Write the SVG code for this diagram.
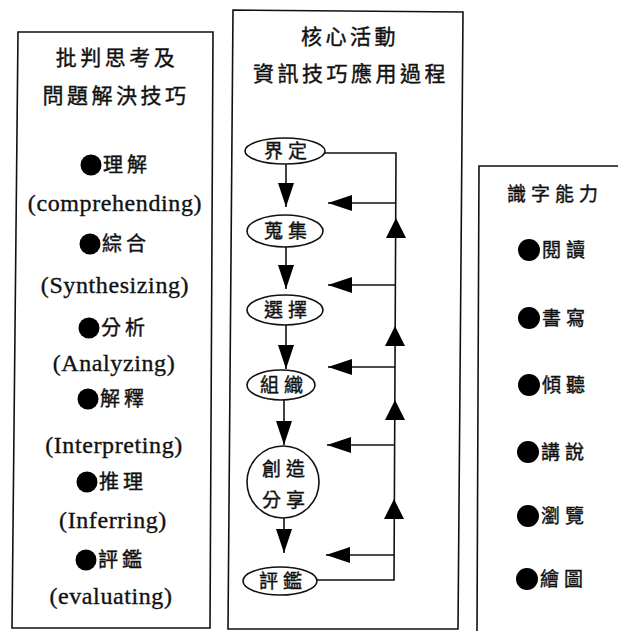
<svg xmlns="http://www.w3.org/2000/svg" width="618" height="631" viewBox="0 0 618 631">
<defs>
<style>
.frame{fill:none;stroke:#111;stroke-width:1.6}
.cjk{font-family:"Noto Sans CJK TC","Noto Sans CJK SC",sans-serif;fill:#111;stroke:#111;stroke-width:0.4}
.t{font-size:21px;letter-spacing:3.5px}
.b{font-size:20px;letter-spacing:4px}
.r{font-size:19px;letter-spacing:5px}
.n{font-size:19px;letter-spacing:5px}
.en{font-family:"Liberation Serif","Times New Roman",serif;font-size:24px;letter-spacing:0.6px;fill:#111;stroke:#111;stroke-width:0.35}
.dot{fill:#000}
.node{fill:#fff;stroke:#111;stroke-width:1.6}
.ln{fill:none;stroke:#111;stroke-width:1.6}
.ah{fill:#000}
</style>
<marker id="arr" markerUnits="userSpaceOnUse" markerWidth="26" markerHeight="18" refX="24" refY="8" orient="auto" viewBox="0 0 26 18">
<path d="M0,0 L24,8 L0,16 Z" fill="#000"/>
</marker>
<path id="up" d="M0,0 L10,20 L-10,20 Z"/>
</defs>
<rect width="618" height="631" fill="#fff"/>

<g id="panel-left">
<path class="frame" d="M18,32 L213,32 L210,628 L12,628 Z"/>
<text class="cjk t" x="117" y="65" text-anchor="middle">批判思考及</text>
<text class="cjk t" x="116" y="103" text-anchor="middle">問題解決技巧</text>
<circle class="dot" cx="91" cy="165" r="10.5"/><text class="cjk b" x="103" y="172">理解</text>
<text class="en" x="115" y="211" text-anchor="middle">(comprehending)</text>
<circle class="dot" cx="90" cy="244" r="10.5"/><text class="cjk b" x="102" y="251">綜合</text>
<text class="en" x="115" y="293" text-anchor="middle">(Synthesizing)</text>
<circle class="dot" cx="89" cy="328" r="10.5"/><text class="cjk b" x="101" y="335">分析</text>
<text class="en" x="114" y="371" text-anchor="middle">(Analyzing)</text>
<circle class="dot" cx="88" cy="399" r="10.5"/><text class="cjk b" x="100" y="406">解釋</text>
<text class="en" x="114" y="453" text-anchor="middle">(Interpreting)</text>
<circle class="dot" cx="87" cy="482" r="10.5"/><text class="cjk b" x="99" y="489">推理</text>
<text class="en" x="113" y="528" text-anchor="middle">(Inferring)</text>
<circle class="dot" cx="86" cy="560" r="10.5"/><text class="cjk b" x="98" y="567">評鑑</text>
<text class="en" x="111" y="604" text-anchor="middle">(evaluating)</text>
</g>

<g id="panel-center">
<path class="frame" d="M233,10 L463,12 L458,629 L228,629 Z"/>
<text class="cjk t" x="350" y="44" text-anchor="middle">核心活動</text>
<text class="cjk t" x="351" y="81" text-anchor="middle">資訊技巧應用過程</text>
</g>

<g id="panel-right">
<path class="frame" d="M618,166 L479,166 L477,631"/>
<text class="cjk r" x="555" y="201" text-anchor="middle">識字能力</text>
<circle class="dot" cx="529" cy="250" r="11"/><text class="cjk r" x="542" y="257">閱讀</text>
<circle class="dot" cx="529" cy="318" r="11"/><text class="cjk r" x="542" y="325">書寫</text>
<circle class="dot" cx="529" cy="385" r="11"/><text class="cjk r" x="542" y="392">傾聽</text>
<circle class="dot" cx="528" cy="452" r="11"/><text class="cjk r" x="541" y="459">講說</text>
<circle class="dot" cx="528" cy="516" r="11"/><text class="cjk r" x="541" y="523">瀏覽</text>
<circle class="dot" cx="527" cy="579" r="11"/><text class="cjk r" x="540" y="586">繪圖</text>
</g>

<g id="connectors">
<line class="ln" x1="286" y1="163" x2="286" y2="207" marker-end="url(#arr)"/>
<line class="ln" x1="286" y1="247" x2="286" y2="289" marker-end="url(#arr)"/>
<line class="ln" x1="286" y1="325" x2="286" y2="369" marker-end="url(#arr)"/>
<line class="ln" x1="284" y1="400" x2="284" y2="445" marker-end="url(#arr)"/>
<line class="ln" x1="284" y1="518" x2="284" y2="553" marker-end="url(#arr)"/>
<path class="ln" d="M324,153 L396,153 L394,580 L317,580"/>
<line class="ln" x1="396" y1="203" x2="328" y2="203" marker-end="url(#arr)"/>
<line class="ln" x1="396" y1="285" x2="328" y2="285" marker-end="url(#arr)"/>
<line class="ln" x1="395" y1="367" x2="328" y2="367" marker-end="url(#arr)"/>
<line class="ln" x1="395" y1="445" x2="327" y2="445" marker-end="url(#arr)"/>
<line class="ln" x1="394" y1="555" x2="326" y2="555" marker-end="url(#arr)"/>
<use href="#up" class="ah" x="396" y="218"/>
<use href="#up" class="ah" x="395" y="326"/>
<use href="#up" class="ah" x="395" y="400"/>
<use href="#up" class="ah" x="394" y="499"/>
</g>

<g id="node-define">
<ellipse class="node" cx="285" cy="151" rx="40" ry="13"/>
<text class="cjk n" x="288" y="158" text-anchor="middle">界定</text>
</g>
<g id="node-collect">
<ellipse class="node" cx="285" cy="231" rx="38" ry="16"/>
<text class="cjk n" x="288" y="238" text-anchor="middle">蒐集</text>
</g>
<g id="node-select">
<ellipse class="node" cx="285" cy="310" rx="38" ry="15"/>
<text class="cjk n" x="288" y="317" text-anchor="middle">選擇</text>
</g>
<g id="node-organize">
<ellipse class="node" cx="281" cy="385" rx="34" ry="15"/>
<text class="cjk n" x="284" y="392" text-anchor="middle">組織</text>
</g>
<g id="node-create">
<circle class="node" cx="283" cy="482" r="36"/>
<text class="cjk n" x="286" y="476" text-anchor="middle">創造</text>
<text class="cjk n" x="286" y="507" text-anchor="middle">分享</text>
</g>
<g id="node-evaluate">
<ellipse class="node" cx="280" cy="581" rx="37" ry="14"/>
<text class="cjk n" x="283" y="588" text-anchor="middle">評鑑</text>
</g>
</svg>
